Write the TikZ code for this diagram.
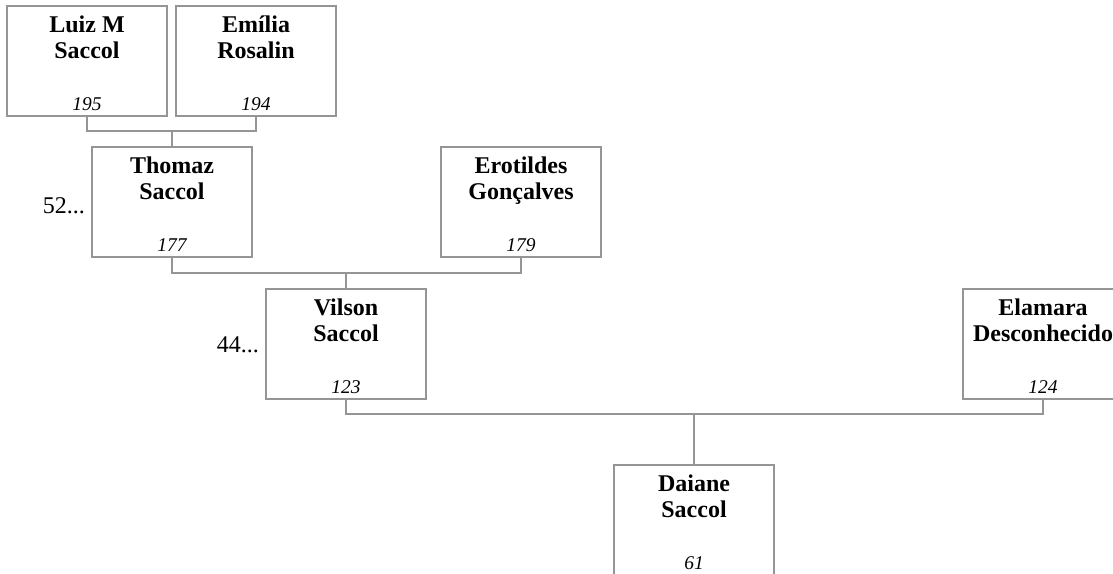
\documentclass[tikz,border=0pt]{standalone}
\usepackage{fontspec}
\setmainfont{Liberation Serif}
\definecolor{linegray}{HTML}{959595}
\newcommand{\pname}[1]{{\setlength{\tabcolsep}{0pt}\begin{tabular}[t]{c}#1\end{tabular}}}
\tikzset{
  person/.style={draw=linegray, line width=1.5pt, minimum width=160pt, minimum height=110pt, inner sep=0pt, outer sep=0pt, anchor=north west},
  pnametext/.style={font=\fontsize{24}{26}\selectfont\bfseries, anchor=base, inner sep=0pt},
  pnum/.style={font=\fontsize{19.5}{22}\selectfont\itshape, anchor=base, inner sep=0pt},
  gentext/.style={font=\fontsize{24}{26}\selectfont, anchor=base east, inner sep=0pt},
  link/.style={draw=linegray, line width=1.5pt}
}
\begin{document}
\begin{tikzpicture}[x=1pt,y=-1pt]
\useasboundingbox (0,0) rectangle (1113,573);
\clip (0,0) rectangle (1113,573);
% boxes
\node[person] (luiz) at (7,6) {};
\node[person] (emilia) at (176,6) {};
\node[person] (thomaz) at (92,147) {};
\node[person] (erotildes) at (441,147) {};
\node[person] (vilson) at (266,289) {};
\node[person] (elamara) at (963,289) {};
\node[person] (daiane) at (614,465) {};
% names
\node[pnametext] (luizn) at ([yshift=-26pt]luiz.north) {\pname{Luiz M\\Saccol}};
\node[pnametext] (emilian) at ([yshift=-26pt]emilia.north) {\pname{Emília\\Rosalin}};
\node[pnametext] (thomazn) at ([yshift=-26pt]thomaz.north) {\pname{Thomaz\\Saccol}};
\node[pnametext] (erotildesn) at ([yshift=-26pt]erotildes.north) {\pname{Erotildes\\Gonçalves}};
\node[pnametext] (vilsonn) at ([yshift=-26pt]vilson.north) {\pname{Vilson\\Saccol}};
\node[pnametext] (elamaran) at ([yshift=-26pt]elamara.north) {\pname{Elamara\\Desconhecido}};
\node[pnametext] (daianen) at ([yshift=-26pt]daiane.north) {\pname{Daiane\\Saccol}};
% numbers
\node[pnum] (luizk) at ([yshift=6pt]luiz.south) {195};
\node[pnum] (emiliak) at ([yshift=6pt]emilia.south) {194};
\node[pnum] (thomazk) at ([yshift=6pt]thomaz.south) {177};
\node[pnum] (erotildesk) at ([yshift=6pt]erotildes.south) {179};
\node[pnum] (vilsonk) at ([yshift=6pt]vilson.south) {123};
\node[pnum] (elamarak) at ([yshift=6pt]elamara.south) {124};
\node[pnum] (daianek) at ([yshift=6pt]daiane.south) {61};
% generation markers
\node[gentext] (g52) at (85,213) {52...};
\node[gentext] (g44) at (259,352) {44...};
% connectors
\coordinate (j1) at (thomaz.north |- 0,131);
\coordinate (j2) at (vilson.north |- 0,273);
\coordinate (j3) at (daiane.north |- 0,414);
\draw[link] (luiz.south) |- (j1) -| (emilia.south);
\draw[link] (j1) -- (thomaz.north);
\draw[link] (thomaz.south) |- (j2) -| (erotildes.south);
\draw[link] (j2) -- (vilson.north);
\draw[link] (vilson.south) |- (j3) -| (elamara.south);
\draw[link] (j3) -- (daiane.north);
\end{tikzpicture}
\end{document}
